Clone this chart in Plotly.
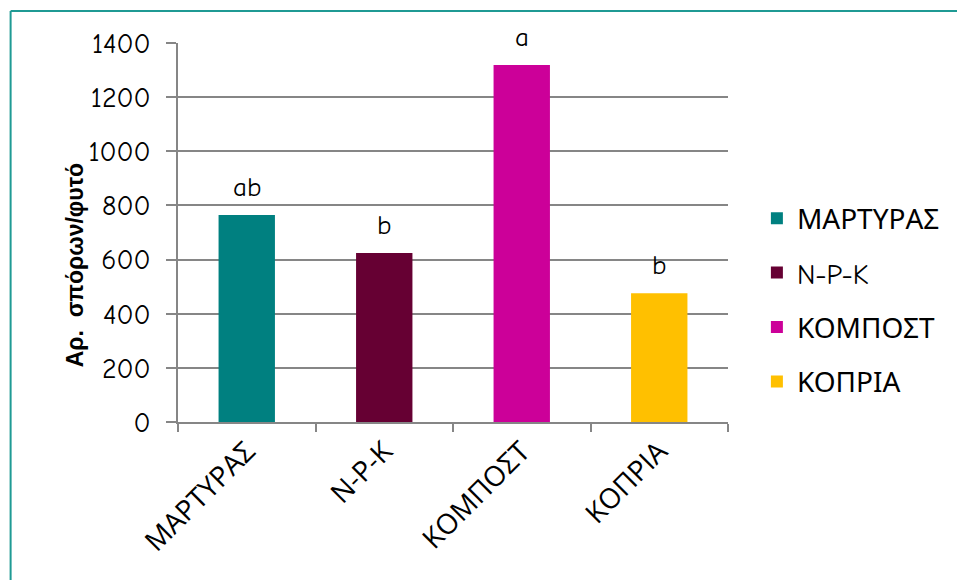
import plotly.graph_objects as go

# Data
categories = ["ΜΑΡΤΥΡΑΣ", "N-P-K", "ΚΟΜΠΟΣΤ", "ΚΟΠΡΙΑ"]
seeds_per_plant = [765, 624, 1319, 476]
significance = ["ab", "b", "a", "b"]
bar_colors = ["#008080", "#660033", "#CC0099", "#FFC000"]
y_ticks = [0, 200, 400, 600, 800, 1000, 1200, 1400]

W, H = 957, 580
L, R, T, B = 178, 227, 43, 158
plot_w = W - L - R
plot_h = H - T - B

num_font = "Comic Sans MS, Comic Neue, Noto Sans, sans-serif"
grid_col = "#868686"

fig = go.Figure()
for cat, val, col in zip(categories, seeds_per_plant, bar_colors):
    fig.add_trace(go.Bar(
        x=[cat], y=[val], name=cat, marker_color=col,
        marker_line_width=0, width=0.41, legendgroup=cat,
        hoverinfo="x+y",
    ))

for cat, val, lab in zip(categories, seeds_per_plant, significance):
    fig.add_annotation(
        x=cat, y=val, text=lab, showarrow=False,
        yanchor="bottom", yshift=10,
        font=dict(family=num_font, size=27, color="#000000"),
    )


def px_x(px):
    return (px - L) / plot_w


def px_y(py):
    return (H - B - py) / plot_h


# Vertical axis title
fig.add_annotation(
    xref="paper", yref="paper",
    x=px_x(75), y=px_y(265), xanchor="center", yanchor="middle",
    text="<b>Αρ.  σπόρων/φυτό</b>", textangle=-90, showarrow=False,
    font=dict(family="Liberation Sans, Arial, sans-serif", size=23, color="#000000"),
)

# Teal frame around the chart area
frame = dict(color="#1F9A94", width=2)
fig.add_shape(type="line", xref="paper", yref="paper",
              x0=px_x(10), x1=px_x(W + 5), y0=px_y(11), y1=px_y(11), line=frame)
fig.add_shape(type="line", xref="paper", yref="paper",
              x0=px_x(10), x1=px_x(10), y0=px_y(11), y1=px_y(H + 5), line=frame)

fig.update_layout(
    width=W, height=H,
    margin=dict(l=L, r=R, t=T, b=B),
    paper_bgcolor="#FFFFFF", plot_bgcolor="#FFFFFF",
    barmode="overlay",
    showlegend=True,
    legend=dict(
        x=px_x(759), y=px_y(300), xanchor="left", yanchor="middle",
        font=dict(family=num_font, size=28, color="#000000"),
        tracegroupgap=15, itemwidth=30, bgcolor="rgba(0,0,0,0)",
    ),
    xaxis=dict(
        type="category", categoryorder="array", categoryarray=categories,
        showline=True, linecolor=grid_col, linewidth=1.5,
        ticks="outside", ticklen=8, tickcolor=grid_col, tickwidth=1.5,
        tickson="boundaries", tickangle=-45, showgrid=False,
        tickfont=dict(family="Open Sans, Noto Sans, sans-serif", size=28, color="#000000"),
    ),
    yaxis=dict(
        range=[0, 1400], tickvals=y_ticks,
        showgrid=True, gridcolor=grid_col, gridwidth=1.5,
        showline=True, linecolor=grid_col, linewidth=1.5,
        ticks="outside", ticklen=10, tickcolor=grid_col, tickwidth=1.5,
        ticklabelstandoff=10,
        zeroline=False,
        tickfont=dict(family=num_font, size=28, color="#000000"),
    ),
)

fig.write_html("out.html")
